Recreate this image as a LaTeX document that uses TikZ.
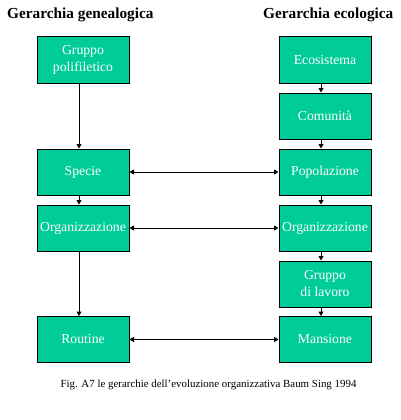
\documentclass[tikz,border=0pt]{standalone}
\usepackage{fontspec}
\setmainfont{Liberation Serif}
\usetikzlibrary{arrows.meta}
\definecolor{boxgreen}{HTML}{00CC99}
\tikzset{
  gbox/.style={draw=black, line width=1pt, fill=boxgreen, minimum width=92pt, minimum height=46pt,
    inner sep=0pt, text=white, align=center, font=\fontsize{13.7}{17}\selectfont},
  conn/.style={line width=1pt, -{Triangle[length=4.5pt,width=5pt]}},
  biconn/.style={line width=1pt, {Triangle[length=4.5pt,width=5pt]}-{Triangle[length=4.5pt,width=5pt]}},
  title/.style={font=\fontsize{15.3}{17}\selectfont\bfseries, anchor=base west, inner sep=0pt},
}
\begin{document}
\begin{tikzpicture}[x=1pt,y=-1pt]
\useasboundingbox[fill=white] (0,0) rectangle (401,420);
\node[title] (tl) at (7,18.5) {Gerarchia genealogica};
\node[title] (tr) at (263,18.5) {Gerarchia ecologica};
% left column
\node[gbox] (gp) at (83,60) {Gruppo\\polifiletico};
\node[gbox] (sp) at (83,172) {Specie};
\node[gbox] (ol) at (83,228) {Organizzazione};
\node[gbox] (ro) at (83,339.5) {Routine};
% right column
\node[gbox] (ec) at (325,60) {Ecosistema};
\node[gbox] (co) at (325,116) {Comunità};
\node[gbox] (po) at (325,172) {Popolazione};
\node[gbox] (or) at (325,228) {Organizzazione};
\node[gbox] (gl) at (325,284) {Gruppo\\di lavoro};
\node[gbox] (ma) at (325,339.5) {Mansione};
% vertical arrows
\draw[conn] ([xshift=-4pt]gp.south) -- ([xshift=-4pt]sp.north);
\draw[conn] ([xshift=-4pt]sp.south) -- ([xshift=-4pt]ol.north);
\draw[conn] ([xshift=-4pt]ol.south) -- ([xshift=-4pt]ro.north);
\draw[conn] ([xshift=-4pt]ec.south) -- ([xshift=-4pt]co.north);
\draw[conn] ([xshift=-4pt]co.south) -- ([xshift=-4pt]po.north);
\draw[conn] ([xshift=-4pt]po.south) -- ([xshift=-4pt]or.north);
\draw[conn] ([xshift=-4pt]or.south) -- ([xshift=-4pt]gl.north);
\draw[conn] ([xshift=-4pt]gl.south) -- ([xshift=-4pt]ma.north);
% horizontal arrows
\draw[biconn] (sp.east) -- (po.west);
\draw[biconn] (ol.east) -- (or.west);
\draw[biconn] (ro.east) -- (ma.west);
% caption
\node[font=\fontsize{10.9}{13}\selectfont, anchor=base, inner sep=0pt] (cap) at (208.5,387.5) {Fig. A7 le gerarchie dell’evoluzione organizzativa Baum Sing 1994};
\end{tikzpicture}
\end{document}
